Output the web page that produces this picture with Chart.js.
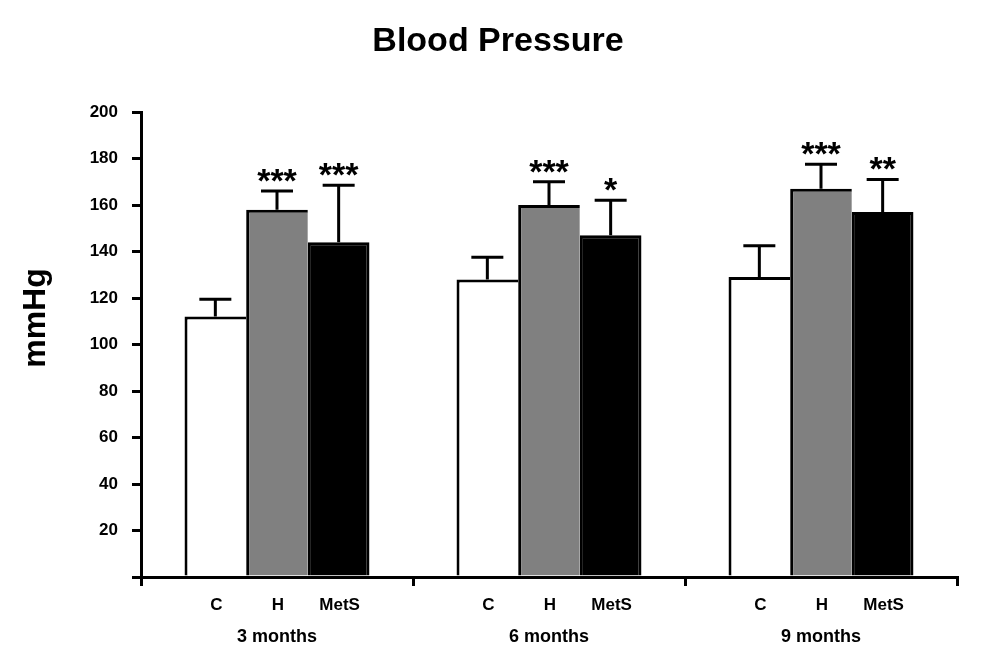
<!DOCTYPE html>
<html>
<head>
<meta charset="utf-8">
<script src="https://cdn.jsdelivr.net/npm/chart.js@4.4.1/dist/chart.umd.min.js"></script>
<style>
  html, body { margin: 0; padding: 0; background: #fff; }
  #wrap { width: 988px; height: 668px; position: relative; }
</style>
</head>
<body>
<div id="wrap"><canvas id="bpChart"></canvas></div>
<script>
// data
const periods = ['3 months', '6 months', '9 months'];
const groups = ['C', 'H', 'MetS'];
const valuesC = [112, 128, 129];
const valuesH = [158, 160, 167];
const valuesMetS = [144, 147, 157];
const errC = [7.5, 9.5, 13.5];
const errH = [8, 10, 10.5];
const errMetS = [24.5, 15, 14];
const starsC = ['', '', ''];
const starsH = ['***', '***', '***'];
const starsMetS = ['***', '*', '**'];
const yTicks = [0, 20, 40, 60, 80, 100, 120, 140, 160, 180, 200];

const FONT = "'Liberation Sans', Arial, sans-serif";

// error bars (upward only) + significance stars
const errorBarPlugin = {
    id: 'errorBars',
    afterDatasetsDraw(chart) {
        const ctx = chart.ctx;
        const yScale = chart.scales.y;
        chart.data.datasets.forEach(function(ds, i) {
            const meta = chart.getDatasetMeta(i);
            meta.data.forEach(function(bar, j) {
                const top = yScale.getPixelForValue(ds.data[j] + ds.errors[j]);
                ctx.save();
                ctx.strokeStyle = '#000';
                ctx.lineWidth = 3;
                ctx.beginPath();
                ctx.moveTo(bar.x, bar.y);
                ctx.lineTo(bar.x, top);
                ctx.moveTo(bar.x - 16, top);
                ctx.lineTo(bar.x + 16, top);
                ctx.stroke();
                if (ds.stars[j]) {
                    ctx.fillStyle = '#000';
                    ctx.font = 'bold 34px ' + FONT;
                    ctx.textAlign = 'center';
                    ctx.textBaseline = 'alphabetic';
                    ctx.fillText(ds.stars[j], bar.x, top + 1);
                }
                ctx.restore();
            });
        });
    }
};

// title, group names under each bar and the rotated y title
const labelsPlugin = {
    id: 'extraLabels',
    afterDraw(chart) {
        const ctx = chart.ctx;
        ctx.save();
        ctx.fillStyle = '#000';
        ctx.textAlign = 'center';
        ctx.textBaseline = 'alphabetic';
        ctx.font = 'bold 34px ' + FONT;
        ctx.fillText('Blood Pressure', 498, 51);

        ctx.font = 'bold 17px ' + FONT;
        ctx.textBaseline = 'middle';
        chart.data.datasets.forEach(function(ds, i) {
            chart.getDatasetMeta(i).data.forEach(function(bar) {
                ctx.fillText(ds.label, bar.x + 1, 605);
            });
        });
        ctx.translate(36, 318);
        ctx.rotate(-Math.PI / 2);
        ctx.font = 'bold 32px ' + FONT;
        ctx.fillText('mmHg', 0, 0);
        ctx.restore();
    }
};

function makeSet(label, data, errors, stars, fill, rightBorder) {
    return {
        label: label,
        data: data,
        errors: errors,
        stars: stars,
        backgroundColor: fill,
        borderColor: '#000',
        borderWidth: { top: 3, left: 3, right: rightBorder, bottom: 0 },
        borderSkipped: 'bottom',
        barPercentage: 1,
        categoryPercentage: 0.68
    };
}

const ctx = document.getElementById('bpChart').getContext('2d');
const bpChart = new Chart(ctx, {
    type: 'bar',
    data: {
        labels: periods,
        datasets: [
            makeSet(groups[0], valuesC, errC, starsC, '#ffffff', 0),
            makeSet(groups[1], valuesH, errH, starsH, '#808080', 0),
            makeSet(groups[2], valuesMetS, errMetS, starsMetS, '#000000', 3)
        ]
    },
    options: {
        responsive: true,
        maintainAspectRatio: false,
        animation: false,
        layout: {
            padding: { left: 0, right: 31, top: 112, bottom: 0 }
        },
        scales: {
            x: {
                grid: {
                    drawOnChartArea: false,
                    offset: true,
                    color: '#000',
                    lineWidth: 3,
                    tickLength: 9
                },
                border: { color: '#000', width: 3 },
                ticks: {
                    color: '#000',
                    padding: 40,
                    font: { family: FONT, size: 18, weight: 'bold' }
                },
                afterFit: function(scale) { scale.height = 91; }
            },
            y: {
                min: 0,
                max: 200,
                afterBuildTicks: function(scale) {
                    scale.ticks = yTicks.map(function(v) { return { value: v }; });
                },
                grid: {
                    drawOnChartArea: false,
                    color: '#000',
                    lineWidth: 3,
                    tickLength: 9
                },
                border: { color: '#000', width: 3 },
                ticks: {
                    color: '#000',
                    padding: 14,
                    font: { family: FONT, size: 17, weight: 'bold' },
                    callback: function(v) { return v === 0 ? '' : v; }
                },
                afterFit: function(scale) { scale.width = 141; }
            }
        },
        plugins: {
            legend: { display: false },
            tooltip: { enabled: false },
            title: { display: false }
        }
    },
    plugins: [errorBarPlugin, labelsPlugin]
});
</script>
</body>
</html>
